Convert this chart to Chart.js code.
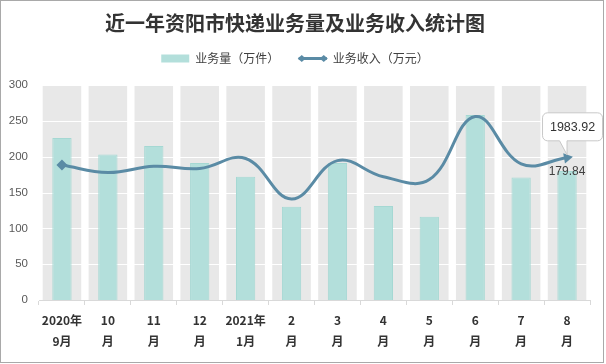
<!DOCTYPE html>
<html><head><meta charset="utf-8">
<script src="https://cdn.jsdelivr.net/npm/chart.js@4/dist/chart.umd.min.js"></script>
<style>html,body{margin:0;padding:0;background:#fff}#wrap{width:606px;height:364px;position:relative}</style>
</head><body><div id="wrap"><canvas id="c" width="606" height="364"></canvas></div>
<script>
const categories = [['2020年','9月'],['10','月'],['11','月'],['12','月'],['2021年','1月'],['2','月'],['3','月'],['4','月'],['5','月'],['6','月'],['7','月'],['8','月']];
const volume = [226, 203, 215, 191, 172, 130, 191, 131, 116, 258, 171, 179.84];
const revenue = [1884, 1778, 1865, 1835, 1975, 1410, 1945, 1720, 1680, 2560, 1900, 1983.92];
const yTicks = [0, 50, 100, 150, 200, 250, 300];
const revenueAxisMax = 3000;
const backdrop = categories.map(() => yTicks[yTicks.length - 1]);

const TEAL = '#b3dfdb', TEAL_B = '#a5d8d3', GREY = '#e8e8e8', LINE = '#5a8ba5';
const CJK = '"Noto Sans CJK SC", "Noto Sans", sans-serif';

const lastIdx = revenue.length - 1;

const deco = {
  id: 'deco',
  beforeDraw(chart) {
    const ctx = chart.ctx;
    ctx.save(); ctx.fillStyle = '#fff'; ctx.fillRect(0, 0, chart.width, chart.height); ctx.restore();
  },
  afterDatasetDraw(chart, args) {
    if (args.index !== 0) return;
    const ctx = chart.ctx, y = chart.scales.y, a = chart.chartArea;
    ctx.save(); ctx.strokeStyle = '#ffffff'; ctx.lineWidth = 1.2;
    yTicks.forEach(v => {
      if (v === 0) return;
      const py = Math.round(y.getPixelForValue(v)) + 0.5;
      ctx.beginPath(); ctx.moveTo(a.left, py); ctx.lineTo(a.right, py); ctx.stroke();
    });
    ctx.restore();
  },
  afterDatasetsDraw(chart) {
    const ctx = chart.ctx;
    // bar data label
    const bm = chart.getDatasetMeta(1).data[lastIdx];
    ctx.save();
    ctx.font = '12px "Liberation Sans", sans-serif';
    ctx.fillStyle = '#404040'; ctx.textAlign = 'center'; ctx.textBaseline = 'middle';
    ctx.fillText(volume[lastIdx].toFixed(2), bm.x, bm.y + 1);
    // callout for line value
    const lp = chart.getDatasetMeta(2).data[lastIdx];
    const x = lp.x, y = lp.y;
    const L = x - 24.5, R = x + 35.5, T = y - 45, B = y - 17, r = 5;
    ctx.beginPath();
    ctx.moveTo(L + r, T); ctx.lineTo(R - r, T); ctx.arcTo(R, T, R, T + r, r);
    ctx.lineTo(R, B - r); ctx.arcTo(R, B, R - r, B, r);
    ctx.lineTo(x, B); ctx.lineTo(x, y - 3); ctx.lineTo(x - 7.5, B);
    ctx.lineTo(L + r, B); ctx.arcTo(L, B, L, B - r, r);
    ctx.lineTo(L, T + r); ctx.arcTo(L, T, L + r, T, r); ctx.closePath();
    ctx.fillStyle = '#fff'; ctx.fill();
    ctx.strokeStyle = '#c8c8c8'; ctx.lineWidth = 1; ctx.stroke();
    ctx.fillStyle = '#333'; ctx.font = '12.5px "Liberation Sans", sans-serif';
    ctx.fillText(revenue[lastIdx].toFixed(2), (L + R) / 2, (T + B) / 2 + 0.5);
    ctx.restore();
  },
  afterDraw(chart) {
    const ctx = chart.ctx;
    // legend line diamonds
    const hb = chart.legend.legendHitBoxes[1];
    if (hb) {
      const cy = hb.top + 6, bw = 28;
      ctx.save(); ctx.fillStyle = LINE;
      [hb.left + 3, hb.left + bw - 3].forEach(cx => {
        ctx.beginPath(); ctx.moveTo(cx - 4, cy); ctx.lineTo(cx, cy - 3.5); ctx.lineTo(cx + 4, cy); ctx.lineTo(cx, cy + 3.5); ctx.closePath(); ctx.fill();
      });
      ctx.restore();
    }
    ctx.save(); ctx.strokeStyle = '#a9a9a9'; ctx.lineWidth = 1;
    ctx.strokeRect(0.5, 0.5, 603, 362); ctx.restore();
  }
};

new Chart(document.getElementById('c'), {
  data: {
    labels: categories,
    datasets: [
      { type: 'bar', data: backdrop, backgroundColor: GREY, borderWidth: 0, grouped: false,
        barPercentage: 0.84, categoryPercentage: 1, order: 3, yAxisID: 'y' },
      { type: 'bar', label: '业务量（万件）', data: volume, backgroundColor: TEAL, borderColor: TEAL_B, borderWidth: 1,
        grouped: false, barPercentage: 0.42, categoryPercentage: 1, order: 2, yAxisID: 'y' },
      { type: 'line', label: '业务收入（万元）', data: revenue, borderColor: LINE, backgroundColor: LINE, borderWidth: 3,
        tension: 0.4, fill: false, order: 1, yAxisID: 'y1',
        pointRadius: revenue.map((_, i) => i === 0 ? 5.5 : (i === lastIdx ? 6 : 0)),
        pointStyle: revenue.map((_, i) => i === lastIdx ? 'triangle' : 'rectRot'),
        pointRotation: revenue.map((_, i) => i === lastIdx ? 80 : 0),
        pointBackgroundColor: LINE, pointBorderWidth: 0, pointHoverRadius: 0 }
    ]
  },
  options: {
    responsive: false, animation: false, devicePixelRatio: 1,
    layout: { padding: { left: 0, right: 16, top: 0, bottom: 0 } },
    plugins: {
      tooltip: { enabled: false },
      title: { display: true, text: '近一年资阳市快递业务量及业务收入统计图', color: '#333',
        font: { size: 20, weight: 'bold', family: CJK, lineHeight: 1 }, padding: { top: 13, bottom: 0 } },
      legend: { display: true, position: 'top', weight: 1600,
        labels: { usePointStyle: true, pointStyleWidth: 28, boxHeight: 8, padding: 19.5, color: '#404040',
          font: { size: 12, family: CJK },
          generateLabels: () => [
            { text: '业务量（万件）', fillStyle: TEAL, strokeStyle: TEAL, lineWidth: 0, pointStyle: 'rect', datasetIndex: 1, hidden: false, fontColor: '#404040' },
            { text: '业务收入（万元）', fillStyle: LINE, strokeStyle: LINE, lineWidth: 3, pointStyle: 'line', datasetIndex: 2, hidden: false, fontColor: '#404040' }
          ] } },
      subtitle: { display: true, text: '', font: { size: 10, lineHeight: 1 }, padding: { top: 0.5, bottom: 0 } }
    },
    scales: {
      x: { offset: true,
        grid: { display: true, drawOnChartArea: false, drawTicks: true, tickLength: 5, color: '#d9d9d9', offset: true },
        border: { display: true, color: '#d9d9d9' },
        ticks: { color: '#333', padding: 4.5, maxRotation: 0, autoSkip: false,
          font: { size: 12, weight: 'bold', family: CJK, lineHeight: 1.75 } },
        afterFit(s) { s.height = 64; } },
      y: { min: 0, max: yTicks[yTicks.length - 1], position: 'left',
        grid: { display: false, drawTicks: false }, border: { display: false },
        ticks: { stepSize: 50, padding: 11, color: '#595959', font: { size: 11.5, family: '"Liberation Sans", sans-serif' } },
        afterFit(s) { s.width = 39; } },
      y1: { min: 0, max: revenueAxisMax, display: false, position: 'right', grid: { display: false } }
    }
  },
  plugins: [deco]
});
</script></body></html>
